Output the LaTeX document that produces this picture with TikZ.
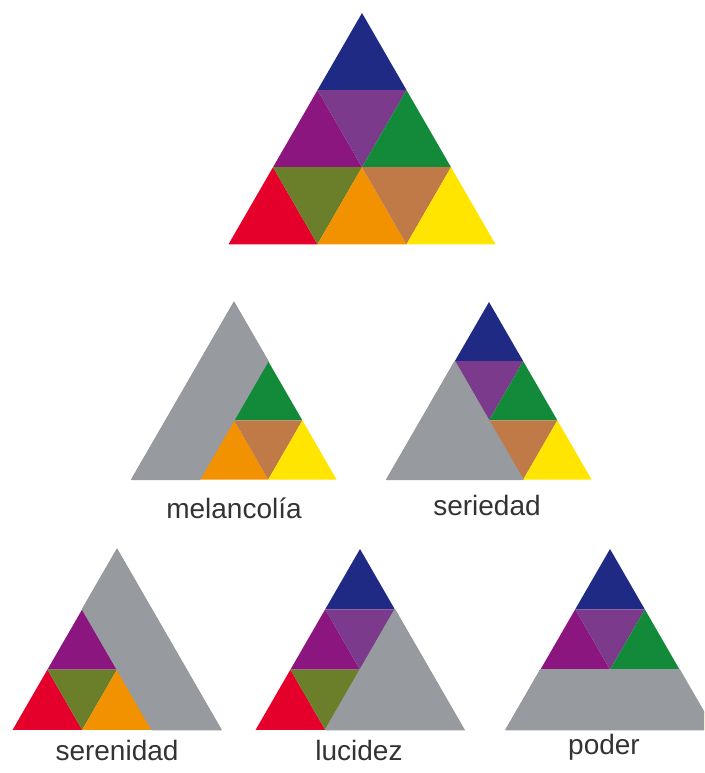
\documentclass[tikz,border=0pt]{standalone}
\usepackage{fontspec}
\setmainfont{Liberation Sans}
\usetikzlibrary{positioning}
\definecolor{cblue}{HTML}{1E2A84}
\definecolor{cdusk}{HTML}{7B3A8C}
\definecolor{cmagenta}{HTML}{8C167F}
\definecolor{cgreen}{HTML}{138A3A}
\definecolor{cred}{HTML}{E4002B}
\definecolor{colive}{HTML}{6B7F2A}
\definecolor{corange}{HTML}{F39200}
\definecolor{cbrown}{HTML}{C07A48}
\definecolor{cyellow}{HTML}{FFE500}
\definecolor{cgrey}{HTML}{979A9E}
\definecolor{ctext}{HTML}{333333}
\tikzset{
  every picture/.style={line join=round},
  px/.style={x=1pt, y=-1pt},
  greyout/.style={fill=cgrey, draw=cgrey, line width=0.8pt},
  lbl/.style={anchor=base, text=ctext, inner sep=0pt, font=\fontsize{28}{32}\selectfont},
  % nine small triangles, lattice units: x = half side, y = row height
  colortri/.pic={
    \fill[cblue]    (0,0) -- (-1,1) -- (1,1) -- cycle;
    \fill[cmagenta] (-1,1) -- (-2,2) -- (0,2) -- cycle;
    \fill[cdusk]    (-1,1) -- (1,1) -- (0,2) -- cycle;
    \fill[cgreen]   (1,1) -- (0,2) -- (2,2) -- cycle;
    \fill[cred]     (-2,2) -- (-3,3) -- (-1,3) -- cycle;
    \fill[colive]   (-2,2) -- (0,2) -- (-1,3) -- cycle;
    \fill[corange]  (0,2) -- (-1,3) -- (1,3) -- cycle;
    \fill[cbrown]   (0,2) -- (2,2) -- (1,3) -- cycle;
    \fill[cyellow]  (2,2) -- (1,3) -- (3,3) -- cycle;
  },
}
% the grey parts, same lattice units
\newcommand\greymelancolia{(0,0) -- (1,1) -- (-1,3) -- (-3,3)}
\newcommand\greyseriedad{(-1,1) -- (1,3) -- (-3,3)}
\newcommand\greyserenidad{(0,0) -- (-1,1) -- (1,3) -- (3,3)}
\newcommand\greylucidez{(1,1) -- (-1,3) -- (3,3)}
\newcommand\greypoder{(-2,2) -- (2,2) -- (3,3) -- (-3,3)}

\begin{document}
\begin{tikzpicture}[px]
  \useasboundingbox (0,0) rectangle (704,773);
  \clip (0,0) rectangle (704,773);
  % full triangle
  \begin{scope}[shift={(362,13)}, x=44.5pt, y=-77.1pt]
    \pic {colortri};
  \end{scope}
  % middle row
  \begin{scope}[shift={(234,302)}, x=34.2pt, y=-59.2pt]
    \pic {colortri};
    \filldraw[greyout] \greymelancolia -- cycle;
  \end{scope}
  \begin{scope}[shift={(489,302)}, x=34.2pt, y=-59.2pt]
    \pic {colortri};
    \filldraw[greyout] \greyseriedad -- cycle;
  \end{scope}
  % bottom row
  \begin{scope}[shift={(117,549)}, x=34.8pt, y=-60.3pt]
    \pic {colortri};
    \filldraw[greyout] \greyserenidad -- cycle;
  \end{scope}
  \begin{scope}[shift={(360,549)}, x=34.8pt, y=-60.3pt]
    \pic {colortri};
    \filldraw[greyout] \greylucidez -- cycle;
  \end{scope}
  \begin{scope}[shift={(610,549)}, x=34.8pt, y=-60.3pt]
    \pic {colortri};
    \filldraw[greyout] \greypoder -- cycle;
  \end{scope}
  % labels
  \node[lbl] (melancolia) at (234,518) {melancolía};
  \node[lbl] (seriedad)   at (487,515) {seriedad};
  \node[lbl] (serenidad)  at (117,760) {serenidad};
  \node[lbl] (lucidez)    at (359,760) {lucidez};
  \node[lbl] (poder)      at (604,754) {poder};
\end{tikzpicture}
\end{document}
